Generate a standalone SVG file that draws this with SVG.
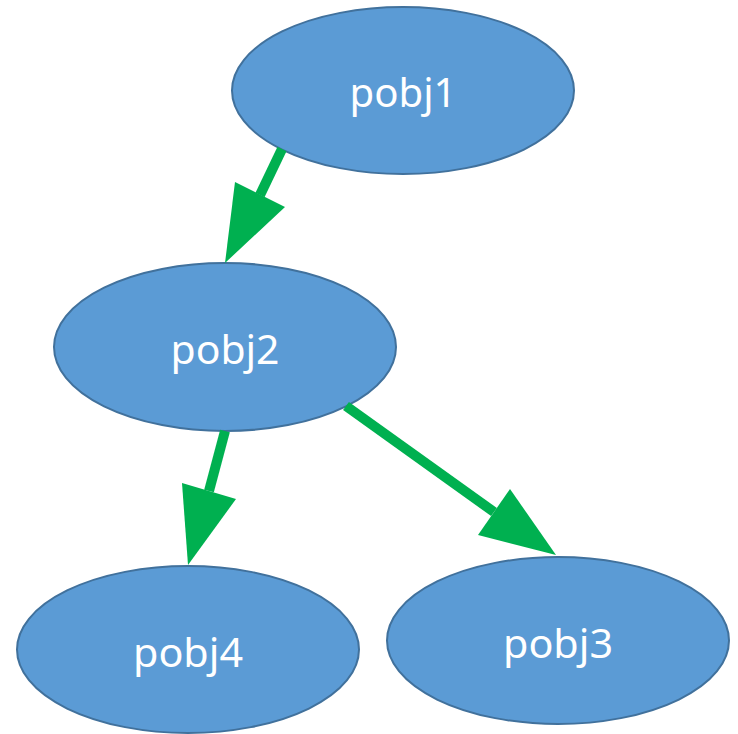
<svg xmlns="http://www.w3.org/2000/svg" width="738" height="734" viewBox="0 0 738 734">
  <style>
    .node ellipse { fill: #5B9BD5; stroke: #41719C; stroke-width: 2; }
    .node text { fill: #FFFFFF; font-family: "Noto Sans", "Open Sans", "Liberation Sans", sans-serif; font-size: 40px; text-anchor: middle; }
    .edge line { stroke: #00B050; stroke-width: 10; }
    .edge polygon { fill: #00B050; }
  </style>
  <rect width="738" height="734" fill="#FFFFFF"/>
  <g id="pobj1" class="node">
    <ellipse cx="403" cy="90.5" rx="171" ry="83.5"/>
    <text x="403" y="107" textLength="107" lengthAdjust="spacingAndGlyphs">pobj1</text>
  </g>
  <g id="pobj2" class="node">
    <ellipse cx="225" cy="347" rx="171" ry="84"/>
    <text x="225" y="364" textLength="109" lengthAdjust="spacingAndGlyphs">pobj2</text>
  </g>
  <g id="pobj4" class="node">
    <ellipse cx="188" cy="649.5" rx="171" ry="83.5"/>
    <text x="188" y="667" textLength="110" lengthAdjust="spacingAndGlyphs">pobj4</text>
  </g>
  <g id="pobj3" class="node">
    <ellipse cx="558" cy="640.5" rx="171" ry="83.5"/>
    <text x="558" y="658" textLength="110" lengthAdjust="spacingAndGlyphs">pobj3</text>
  </g>
  <g id="connectors">
    <g class="edge" id="pobj1-pobj2">
      <line x1="282" y1="149" x2="260" y2="195"/>
      <polygon points="235,182 285,207 225,263"/>
    </g>
    <g class="edge" id="pobj2-pobj4">
      <line x1="225" y1="431" x2="209" y2="491"/>
      <polygon points="182,483 236,499 188,565"/>
    </g>
    <g class="edge" id="pobj2-pobj3">
      <line x1="346" y1="406" x2="494" y2="512"/>
      <polygon points="510,489 478,535 556,555"/>
    </g>
  </g>
</svg>
